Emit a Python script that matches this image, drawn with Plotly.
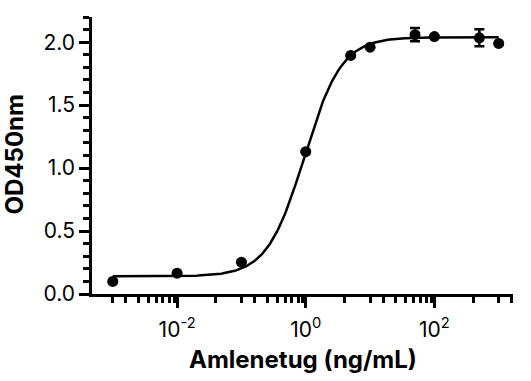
import numpy as np
import plotly.graph_objects as go

# ---- data ----
conc_ng_ml = [0.001, 0.01, 0.1, 1, 5, 10, 50, 100, 500, 1000]
od450 = [0.10, 0.165, 0.253, 1.13, 1.895, 1.96, 2.06, 2.045, 2.035, 1.99]
od450_err = [None, None, None, None, None, None, 0.053, None, 0.068, None]

# 4-parameter logistic fit parameters
fit_bottom = 0.14
fit_top = 2.04
fit_ec50 = 0.95
fit_hill = 1.5

x_title = "Amlenetug (ng/mL)"
y_title = "OD450nm"
x_tick_vals = [0.01, 1, 100]
x_tick_text = ["10<sup>-2</sup>", "10<sup>0</sup>", "10<sup>2</sup>"]
x_minor_mult = [0.04, 0.1, 0.16, 0.25, 0.36, 0.48, 0.6, 0.76, 0.9]
x_minor_bases = [0.01, 1, 100, 10000]
y_tick_vals = [0.0, 0.5, 1.0, 1.5, 2.0]

# ---- fitted curve ----
x_fit = np.logspace(np.log10(conc_ng_ml[0]), np.log10(conc_ng_ml[-1]), 400)
y_fit = fit_bottom + (fit_top - fit_bottom) / (1 + (fit_ec50 / x_fit) ** fit_hill)

x_minor = [b * m for b in x_minor_bases for m in x_minor_mult]

FONT = "Inter"

fig = go.Figure()
fig.add_trace(go.Scatter(x=x_fit, y=y_fit, mode="lines",
                         line=dict(color="black", width=2.5),
                         hoverinfo="skip", showlegend=False))
fig.add_trace(go.Scatter(
    x=conc_ng_ml, y=od450, mode="markers",
    marker=dict(color="black", size=11, symbol="circle"),
    error_y=dict(type="data", array=od450_err, visible=True,
                 color="black", thickness=2.5, width=5),
    showlegend=False))

fig.update_layout(
    width=531, height=381,
    margin=dict(l=92, r=18, t=17, b=87),
    plot_bgcolor="white", paper_bgcolor="white",
    font=dict(family=FONT, color="black", size=21),
    xaxis=dict(
        type="log", range=[-3.323, 3.222], automargin=False,
        showgrid=False, zeroline=False,
        showline=True, linecolor="black", linewidth=2.5,
        ticks="outside", ticklen=11, tickwidth=2.5, tickcolor="black",
        tickvals=x_tick_vals, ticktext=x_tick_text,
        tickfont=dict(size=21), ticklabelstandoff=4,
        minor=dict(tickvals=x_minor, ticks="outside", ticklen=6,
                   tickwidth=2.5, tickcolor="black", showgrid=False),
    ),
    yaxis=dict(
        range=[0, 2.2], automargin=False,
        showgrid=False, zeroline=False,
        showline=True, linecolor="black", linewidth=2.5,
        ticks="outside", ticklen=10, tickwidth=2.5, tickcolor="black",
        tickvals=y_tick_vals, tickformat=".1f",
        tickfont=dict(size=21),
        minor=dict(dtick=0.1, tick0=0, ticks="outside", ticklen=6,
                   tickwidth=2.5, tickcolor="black", showgrid=False),
    ),
    annotations=[
        dict(text=f"<b>{x_title}</b>", xref="paper", yref="paper",
             x=0.501, y=-0.238, xanchor="center", yanchor="middle",
             showarrow=False, font=dict(family=FONT, size=24, color="black")),
        dict(text=f"<b>{y_title}</b>", xref="paper", yref="paper",
             x=-0.184, y=0.502, xanchor="center", yanchor="middle",
             textangle=-90, showarrow=False,
             font=dict(family=FONT, size=24, color="black")),
    ],
)

fig.write_html("out.html", config={"displayModeBar": False},
               post_script="document.body.style.margin='0';")
